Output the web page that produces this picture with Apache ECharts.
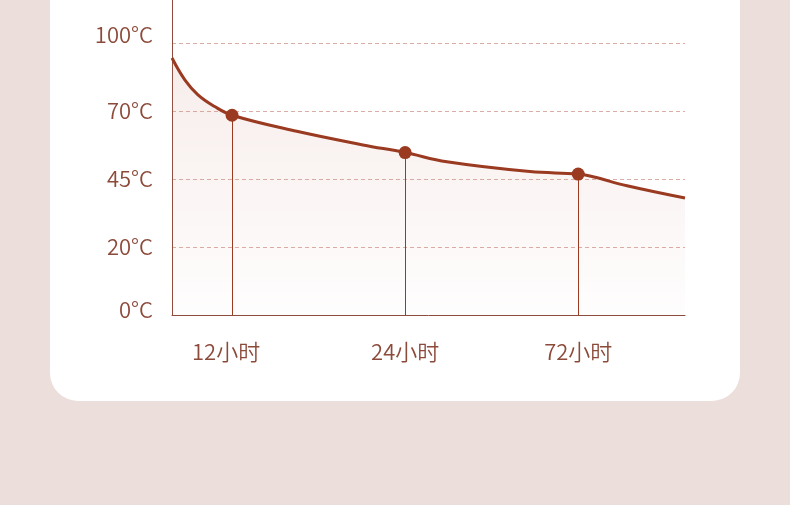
<!DOCTYPE html>
<html>
<head>
<meta charset="utf-8">
<script src="https://cdn.jsdelivr.net/npm/echarts@6/dist/echarts.min.js"></script>
<style>
html,body{margin:0;padding:0;background:#ecdeda;}
#c{width:790px;height:505px;}
</style>
</head>
<body>
<div id="c"></div>
<script>
// Temperature ticks (drawn evenly spaced) and their labels
const tickTemps = [0, 20, 45, 70, 100];
const yLabels = ['0°C', '20°C', '45°C', '70°C', '100°C'];
// X slots: 12h, 24h, 72h shown at positions 1, 2, 3
const xLabels = ['12小时', '24小时', '72小时'];
const markerSlots = [1, 2, 3];
const markerTemps = [68.4, 54.7, 46.8];
// Curve samples (slot position, temperature °C)
const curveSlots = [0.653, 0.727, 0.803, 0.900, 1, 1.374, 1.756, 2, 2.241, 2.721, 3, 3.085, 3.282, 3.617];
const curveTemps = [93.3, 83.7, 77.1, 71.9, 68.4, 62.5, 57.5, 54.7, 51.3, 47.7, 46.8, 45.8, 42.5, 38.0];

// piecewise scale: temperature -> evenly spaced tick index
function toIdx(t) {
  for (let i = 0; i < tickTemps.length - 1; i++) {
    if (t <= tickTemps[i + 1] || i === tickTemps.length - 2) {
      return i + (t - tickTemps[i]) / (tickTemps[i + 1] - tickTemps[i]);
    }
  }
  return 0;
}

const brown = '#9a3a21';
const labelColor = '#8c4a3a';
const fontFamily = '"Noto Sans CJK SC", "Noto Sans", sans-serif';
const fs = 22;
const fw = 350;

const curveData = curveSlots.map((s, i) => [s, toIdx(curveTemps[i])]);
const markerData = markerSlots.map((s, i) => [s, toIdx(markerTemps[i])]);
const vLines = markerSlots.map((s, i) => [{ coord: [s, toIdx(markerTemps[i])] }, { coord: [s, 0] }]);

const chart = echarts.init(document.getElementById('c'), null, { renderer: 'canvas' });
chart.setOption({
  animation: false,
  backgroundColor: '#ecdeda',
  graphic: [{
    type: 'rect',
    z: -100,
    shape: { x: 50, y: -40, width: 690, height: 441, r: 28 },
    style: { fill: '#ffffff' }
  }],
  grid: { left: 172, right: 105, top: 0, bottom: 190, containLabel: false },
  xAxis: {
    type: 'value',
    min: curveSlots[0],
    max: curveSlots[curveSlots.length - 1],
    axisLine: { show: true, lineStyle: { color: '#8e4a3a', width: 1 } },
    axisTick: { show: false },
    splitLine: { show: false },
    axisLabel: {
      customValues: markerSlots,
      margin: 26,
      color: labelColor,
      fontSize: fs,
      fontWeight: fw,
      fontFamily: fontFamily,
      formatter: function (v) {
        const i = markerSlots.indexOf(v);
        if (i < 0) return '';
        return i === 0 ? '{l|' + xLabels[i] + '}' : xLabels[i];
      },
      rich: { l: { padding: [0, 12, 0, 0], color: labelColor, fontSize: fs, fontWeight: fw, fontFamily: fontFamily } }
    }
  },
  yAxis: {
    type: 'value',
    min: 0,
    max: 4.63,
    interval: 1,
    axisLine: { show: true, lineStyle: { color: '#8e4a3a', width: 1 } },
    axisTick: { show: false },
    splitLine: {
      show: true,
      showMinLine: false,
      showMaxLine: false,
      lineStyle: { color: '#dbaea5', type: [4, 3], width: 1 }
    },
    axisLabel: {
      margin: 19,
      color: labelColor,
      fontSize: fs,
      fontWeight: fw,
      fontFamily: fontFamily,
      formatter: function (v) {
        if (Math.abs(v - Math.round(v)) > 1e-6) return '';
        const i = Math.round(v);
        const txt = yLabels[i];
        if (txt === undefined) return '';
        if (i === 4) return '{a|' + txt + '}';
        if (i === 0) return '{b|' + txt + '}';
        return txt;
      },
      rich: {
        a: { padding: [0, 0, 16, 0], color: labelColor, fontSize: fs, fontWeight: fw, fontFamily: fontFamily },
        b: { padding: [0, 0, 10, 0], color: labelColor, fontSize: fs, fontWeight: fw, fontFamily: fontFamily }
      }
    }
  },
  series: [{
    type: 'line',
    data: curveData,
    smooth: 0.4,
    symbol: 'none',
    lineStyle: { color: brown, width: 3 },
    areaStyle: {
      color: new echarts.graphic.LinearGradient(0, 0, 0, 1, [
        { offset: 0, color: 'rgba(196,128,112,0.20)' },
        { offset: 1, color: 'rgba(196,128,112,0.02)' }
      ])
    },
    markLine: {
      silent: true,
      symbol: ['none', 'none'],
      label: { show: false },
      lineStyle: { color: brown, width: 1, type: 'solid' },
      data: vLines
    },
    z: 3
  }, {
    type: 'scatter',
    data: markerData,
    symbol: 'circle',
    symbolSize: 13,
    itemStyle: { color: brown, opacity: 1 },
    z: 5
  }]
});
</script>
</body>
</html>
